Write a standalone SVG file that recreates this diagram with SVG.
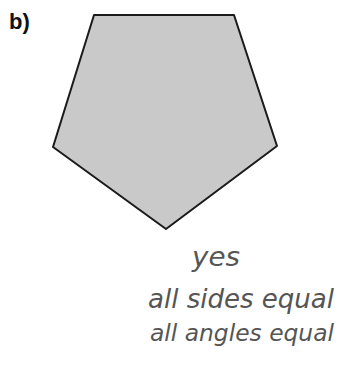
<svg xmlns="http://www.w3.org/2000/svg" width="345" height="381" viewBox="0 0 345 381">
<defs>
<style>
.lbl{font-family:"Liberation Sans",Arial,sans-serif;font-weight:bold;font-size:22px;fill:#111}
.hand{font-family:"DejaVu Sans","Liberation Sans",sans-serif;font-style:italic;fill:#555;font-weight:normal}
</style>
</defs>
<rect width="345" height="381" fill="#fff"/>
<text class="lbl" x="9" y="29">b)</text>
<g id="pentagon">
<polygon points="94,15 234,15 277,146 166,229 53,147" fill="#c9c9c9" stroke="#1a1a1a" stroke-width="2" stroke-linejoin="round"/>
</g>
<g id="answer">
<text class="hand" x="192" y="266" font-size="27" textLength="48" lengthAdjust="spacingAndGlyphs">yes</text>
<text class="hand" x="148" y="308" font-size="26" textLength="186" lengthAdjust="spacingAndGlyphs">all sides equal</text>
<text class="hand" x="150" y="341" font-size="23.5" textLength="184" lengthAdjust="spacingAndGlyphs">all angles equal</text>
</g>
</svg>
